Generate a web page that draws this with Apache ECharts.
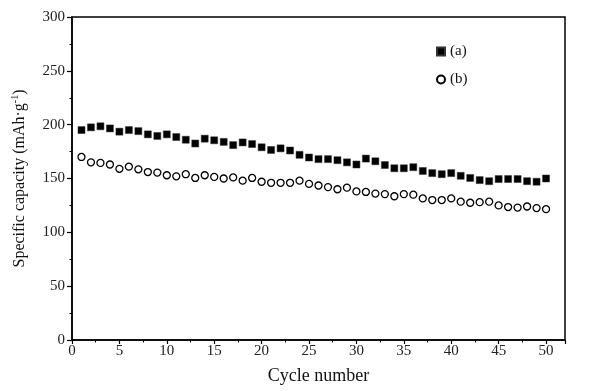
<!DOCTYPE html>
<html>
<head>
<meta charset="utf-8">
<script src="https://cdn.jsdelivr.net/npm/echarts@6/dist/echarts.min.js"></script>
<style>
html,body{margin:0;padding:0;background:#fff;}
#chart{width:600px;height:391px;}
</style>
</head>
<body>
<div id="chart"></div>
<script>
var cycles = [];
for (var i = 1; i <= 50; i++) cycles.push(i);

var seriesA = [195,197.5,198.5,196.5,193.5,195,194,191,189.5,191,
               188.5,186,182.5,187,185.5,184,181,183.5,182,179,
               176.5,178,176,172,169.5,168,168,167,165,163,
               168.5,166,162.5,159.5,159.5,160.5,157,155,154,155,
               152.5,150.5,148.5,147.5,149.5,149.5,149.5,147.5,147,150];

var seriesB = [170,165,164.5,163,159,161,158.5,156,155.5,153,
               152,154,150.5,153,151.5,150,151,148,150.5,147,
               146,146,146,148,145,143.5,142,140,141.5,138,
               137.5,136,135.5,133.5,135.5,135,131.5,130,130,131.5,
               128.5,127.5,128,128.5,125,123.5,123,124,122.5,121.5];

var seriesNames = ['(a)', '(b)'];
var xTicks = [0,5,10,15,20,25,30,35,40,45,50];
var yTicks = [0,50,100,150,200,250,300];

function pairs(xs, ys){ return xs.map(function(x,i){ return [x, ys[i]]; }); }

var font = '"Liberation Serif", "Times New Roman", serif';
var chart = echarts.init(document.getElementById('chart'), null, {renderer:'canvas'});
chart.setOption({
  animation: false,
  backgroundColor: '#fff',
  textStyle: {fontFamily: font, color: '#111'},
  grid: {left: 72, right: 35, top: 17, bottom: 51, show: true, borderColor: '#000', borderWidth: 1.5, backgroundColor: 'transparent'},
  legend: {
    orient: 'vertical', left: 431, top: 39,
    itemWidth: 8, itemHeight: 8, itemGap: 13,
    textStyle: {fontFamily: font, fontSize: 15, color: '#111'},
    data: [{name: seriesNames[0], icon: 'rect'}, {name: seriesNames[1], icon: 'circle'}]
  },
  xAxis: {
    type: 'value', min: 0, max: 52, interval: 5,
    name: 'Cycle number', nameLocation: 'middle', nameGap: 27,
    nameTextStyle: {fontFamily: font, fontSize: 18, color: '#111'},
    axisLine: {show: true, lineStyle: {color: '#000', width: 1.5}},
    axisTick: {show: true, length: 4, lineStyle: {color: '#000', width: 1.2}},
    minorTick: {show: true, splitNumber: 2, length: 2.5, lineStyle: {color: '#000', width: 1}},
    splitLine: {show: false},
    axisLabel: {fontFamily: font, fontSize: 15, color: '#222', margin: 4,
      formatter: function(v){ return xTicks.indexOf(v) >= 0 ? String(v) : ''; }}
  },
  yAxis: {
    type: 'value', min: 0, max: 300, interval: 50,
    name: '{a|Specific capacity (mAh·g}{s|-1}{a|)}', nameLocation: 'middle', nameGap: 42,
    nameTextStyle: {fontFamily: font, fontSize: 16, color: '#111',
      rich: {a: {fontFamily: font, fontSize: 16, color: '#111'},
             s: {fontFamily: font, fontSize: 10, color: '#111', padding: [0,0,10,0]}}},
    axisLine: {show: true, lineStyle: {color: '#000', width: 1.5}},
    axisTick: {show: true, length: 5, lineStyle: {color: '#000', width: 1.2}},
    minorTick: {show: true, splitNumber: 2, length: 2.5, lineStyle: {color: '#000', width: 1}},
    splitLine: {show: false},
    axisLabel: {fontFamily: font, fontSize: 15, color: '#222', margin: 7,
      formatter: function(v){ return yTicks.indexOf(v) >= 0 ? String(v) : ''; }}
  },
  series: [
    {name: seriesNames[0], type: 'scatter', symbol: 'rect', symbolSize: 7,
     itemStyle: {color: '#000', borderColor: '#333', borderWidth: 0.5, opacity: 1},
     data: pairs(cycles, seriesA)},
    {name: seriesNames[1], type: 'scatter', symbol: 'circle', symbolSize: 7,
     itemStyle: {color: '#fff', borderColor: '#000', borderWidth: 1.3, opacity: 1},
     data: pairs(cycles, seriesB)}
  ]
});
</script>
</body>
</html>
